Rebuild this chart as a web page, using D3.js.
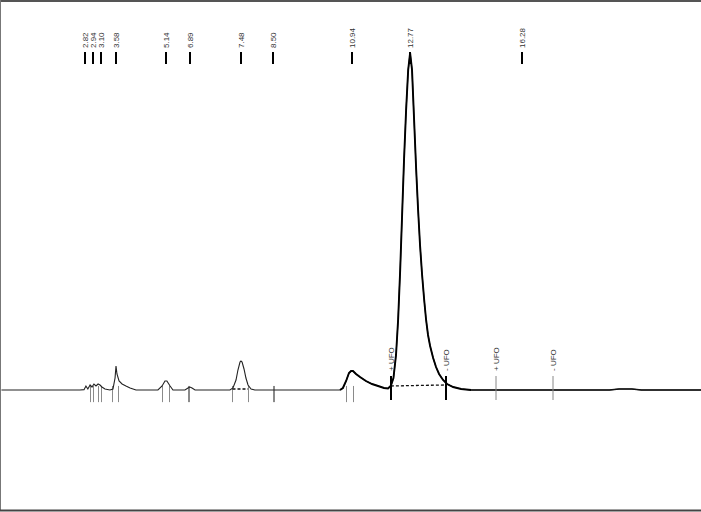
<!DOCTYPE html>
<html><head><meta charset="utf-8">
<script src="https://cdn.jsdelivr.net/npm/d3@7"></script>
<style>body{margin:0;background:#fff}svg{display:block}text{font-family:"Liberation Sans",Arial,sans-serif}</style>
</head><body><div id="chart"></div>
<script>
// retention time (min) and detector signal (relative units)
const traceTime = [0,2.45,2.58,2.64,2.70,2.77,2.83,2.89,2.955,3.02,3.08,3.14,3.235,3.39,3.485,3.55,3.58,3.61,3.675,3.77,3.89,4.02,4.205,4.89,5.02,5.11,5.17,5.27,5.36,5.735,5.83,5.89,5.955,6.05,7.14,7.235,7.33,7.39,7.455,7.485,7.52,7.58,7.64,7.705,7.80,7.92,10.58,10.67,10.77,10.86,10.925,10.985,11.08,11.205,11.39,11.58,11.77,11.955,12.08,12.17,12.25,12.33,12.395,12.46,12.52,12.58,12.645,12.71,12.77,12.83,12.895,12.96,13.02,13.08,13.145,13.21,13.27,13.33,13.395,13.49,13.58,13.675,13.80,13.925,14.115,14.365,14.675,19.0,19.3,19.7,20.0,21.86];
const traceValue = [0,0,0.1,1.19,0.3,1.48,0.89,1.78,1.19,1.78,1.48,0.89,0.3,0,0.3,3.56,7.12,4.75,2.67,1.78,1.19,0.59,0,0,1.19,2.67,2.67,1.19,0,0,0.59,0.89,0.59,0,0,0.59,2.97,5.93,8.31,8.61,8.31,6.23,3.56,1.48,0.3,0,0,0.59,2.67,5.04,5.64,5.64,4.75,3.86,2.67,1.78,1.19,0.59,0.45,1.3,3.56,10.39,20.77,35.61,51.93,68.25,83.09,94.96,100,94.96,80.12,65.28,53.41,43.03,34.12,26.71,20.77,16.32,13.06,9.50,6.82,4.75,2.97,1.78,0.89,0.30,0,0,0.3,0.3,0,0];

// peak labels (text as printed) and their positions on the time axis
const peakLabels = ["2.82","2.94","3.10","3.58","5.14","6.89","7.48","8.50","10.94","12.77","16.28"];
const peakTimes  = [2.82,2.94,3.10,3.58,5.14,5.89,7.48,8.50,10.94,12.77,16.28];

// integration event marks
const eventTimes = [2.78,2.87,3.01,3.11,3.47,3.64,5.01,5.24,5.82,5.87,7.22,7.705,8.48,8.52,10.76,10.995];

// UFO (manual integration) events
const ufoLabels = ["+ UFO","- UFO","+ UFO","- UFO"];
const ufoTimes  = [12.17,13.89,15.455,17.235];
const ufoActive = [true,true,false,false];

// dashed peak baselines: [start, end] times with values
const baseStart = [7.22,12.17];
const baseEnd   = [7.705,13.89];
const baseStartVal = [0.3,1.19];
const baseEndVal   = [0.3,1.5];

const W = 701, H = 512;
const x = d3.scaleLinear().domain([0,21.86]).range([1.44,701]);
const y = d3.scaleLinear().domain([-35.6,115.7]).range([510,0]);

const svg = d3.select("#chart").append("svg").attr("width",W).attr("height",H);

// frame
svg.append("line").attr("x1",0).attr("x2",W).attr("y1",1).attr("y2",1).attr("stroke","#555").attr("stroke-width",2);
svg.append("line").attr("x1",0.5).attr("x2",0.5).attr("y1",0).attr("y2",511).attr("stroke","#777").attr("stroke-width",1);
svg.append("line").attr("x1",0).attr("x2",W).attr("y1",510.5).attr("y2",510.5).attr("stroke","#444").attr("stroke-width",2);

const pts = traceTime.map((t,i)=>[t,traceValue[i]]);
const line = d3.line().x(d=>x(d[0])).y(d=>y(d[1]));

// event marks (gray)
svg.append("g").selectAll("line").data(eventTimes).join("line")
  .attr("x1",d=>Math.round(x(d))+0.5).attr("x2",d=>Math.round(x(d))+0.5)
  .attr("y1",y(1.2)).attr("y2",y(-3.6))
  .attr("stroke","#8a8a8a").attr("stroke-width",1);

// dashed baselines
svg.append("g").selectAll("line").data(baseStart).join("line")
  .attr("x1",d=>x(d)).attr("x2",(d,i)=>x(baseEnd[i]))
  .attr("y1",(d,i)=>y(baseStartVal[i])).attr("y2",(d,i)=>y(baseEndVal[i]))
  .attr("stroke","#111").attr("stroke-width",1.3).attr("stroke-dasharray","3,2");

// trace
svg.append("path").datum(pts).attr("d",line).attr("fill","none").attr("stroke","#222").attr("stroke-width",1.1);
svg.append("path").datum(pts.filter(d=>d[0]>=10.5 && d[0]<=14.8)).attr("d",line).attr("fill","none").attr("stroke","#000").attr("stroke-width",1.9);
svg.append("path").datum(pts.filter(d=>d[0]>=14.675)).attr("d",line).attr("fill","none").attr("stroke","#111").attr("stroke-width",1.3);

// peak labels with simple collision avoidance (push left)
const gap = 8;
const lx = peakTimes.map(t=>x(t));
for (let i=lx.length-2;i>=0;i--) if (lx[i] > lx[i+1]-gap) lx[i] = lx[i+1]-gap;
const pg = svg.append("g");
peakLabels.forEach((lab,i)=>{
  const px = Math.round(lx[i]);
  pg.append("line").attr("x1",px).attr("x2",px).attr("y1",52).attr("y2",64).attr("stroke","#000").attr("stroke-width",2);
  pg.append("text").attr("transform",`translate(${px+3},48) rotate(-90)`)
    .attr("text-anchor","start").attr("font-size",8).attr("fill","#333").text(lab);
});

// UFO events
const ug = svg.append("g");
ufoLabels.forEach((lab,i)=>{
  const px = Math.round(x(ufoTimes[i]));
  ug.append("line").attr("x1",px).attr("x2",px).attr("y1",376).attr("y2",400)
    .attr("stroke",ufoActive[i]?"#000":"#888").attr("stroke-width",ufoActive[i]?2:1);
  ug.append("text").attr("transform",`translate(${px+3},371) rotate(-90)`)
    .attr("text-anchor","start").attr("font-size",8).attr("fill","#333").text(lab);
});
</script></body></html>
